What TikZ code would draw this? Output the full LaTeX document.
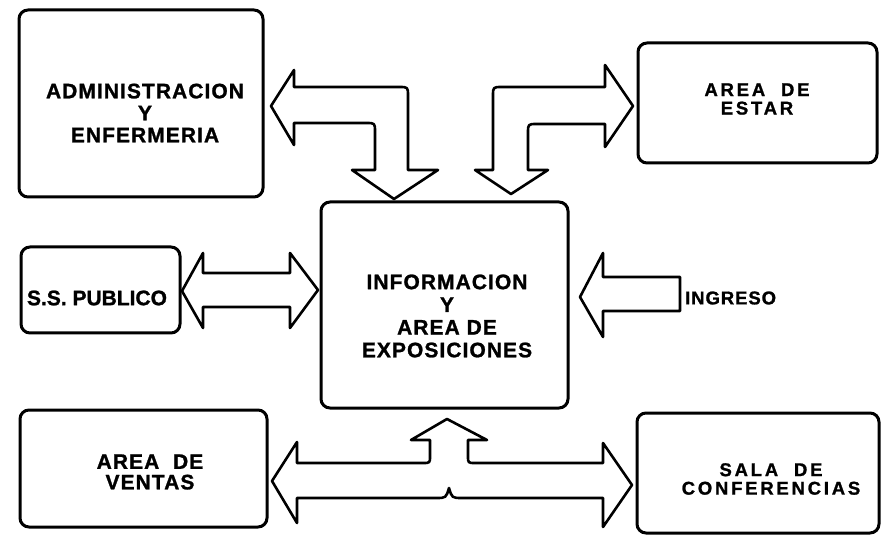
\documentclass[tikz,border=0pt]{standalone}
\usepackage{fontspec}
\newfontfamily\roomfont[LetterSpace=5,FakeBold=1.2]{Liberation Sans Bold}
\newfontfamily\wideroomfont[LetterSpace=15,FakeBold=1.2]{Liberation Sans Bold}
\newfontfamily\tightroomfont[FakeBold=1.2]{Liberation Sans Bold}
\begin{document}
\begin{tikzpicture}[x=1pt,y=-1pt,
    room/.style={draw=black, line width=3pt, rounded corners=9pt, inner sep=0pt},
    roomtext/.style={align=center, inner sep=0pt, font=\roomfont\fontsize{21}{22}\selectfont},
    smalltext/.style={roomtext, font=\wideroomfont\fontsize{18.5}{18.5}\selectfont},
    flow/.style={draw=black, line width=2.6pt, line join=round, fill=white}]
                \useasboundingbox (0,0) rectangle (881,537);
                %%%  Rooms (boxes with rounded corners)
                \node[room, minimum width=244pt, minimum height=187pt] (admin) at (141,103.5) {};
                \node[room, minimum width=239pt, minimum height=120pt] (estar) at (757.5,103) {};
                \node[room, minimum width=159pt, minimum height=86pt] (ss) at (100.5,290) {};
                \node[room, minimum width=247pt, minimum height=206pt] (info) at (444.5,305) {};
                \node[room, minimum width=247pt, minimum height=117pt] (ventas) at (143.5,468.5) {};
                \node[room, minimum width=242pt, minimum height=120pt] (sala) at (758,473) {};
                %%%  Room names
                \node[roomtext] (admintext) at (145,113) {ADMINISTRACION\\Y\\ENFERMERIA};
                \node[smalltext] (estartext) at (757,99) {AREA\ \ DE\\ESTAR};
                \node[roomtext, font=\tightroomfont\fontsize{21}{22}\selectfont] (sstext) at (97,298) {S.S. PUBLICO};
                \node[roomtext, font=\roomfont\fontsize{21}{22.7}\selectfont] (infotext) at (447,316) {INFORMACION\\Y\\AREA DE\\EXPOSICIONES};
                \node[roomtext, font=\roomfont\fontsize{21}{20.5}\selectfont] (ventastext) at (150,472) {AREA\ \ DE\\VENTAS};
                \node[smalltext] (salatext) at (771,479) {SALA\ \ DE\\CONFERENCIAS};
                \node[roomtext, font=\roomfont\fontsize{18.5}{18.5}\selectfont, anchor=west] (ingreso) at (685,298) {INGRESO};
                %%%  Elbow arrow: admin <-> info
                \path[flow] (271,106) -- (294,70) -- (294,87) -- (399,87) .. controls (408,87) .. (408,96)
                    -- (408,170) -- (438,170) -- (394,199) -- (352,170) -- (375,170)
                    -- (375,132) .. controls (375,123) .. (366,123) -- (294,123) -- (294,145) -- cycle;
                %%%  Elbow arrow: info <-> estar
                \path[flow] (633,106) -- (605,65) -- (605,87) -- (502,87) .. controls (493,87) .. (493,96)
                    -- (493,170) -- (475,170) -- (511,194) -- (548,170) -- (528,170)
                    -- (528,133) .. controls (528,124) .. (537,124) -- (605,124) -- (605,147) -- cycle;
                %%%  Double arrow: ss <-> info
                \path[flow] (182,291) -- (203,253) -- (203,273) -- (290,273) -- (290,253) -- (318,290)
                    -- (290,328) -- (290,307) -- (203,307) -- (203,328) -- cycle;
                %%%  Arrow from entrance
                \path[flow] (580,297) -- (603,253) -- (603,277) -- (680,277) -- (680,311) -- (603,311) -- (603,337) -- cycle;
                %%%  T arrow: ventas <-> info <-> sala
                \path[flow] (272,481) -- (297,442) -- (297,463) -- (423,463) .. controls (430,463) .. (430,456)
                    -- (430,440) -- (411,440) -- (447,419) -- (487,440) -- (468,440)
                    -- (468,456) .. controls (468,463) .. (475,463)
                    -- (603,463) -- (603,443) -- (632,485) -- (603,527) -- (603,498) -- (462,498)
                    .. controls (452,498) .. (449,488) .. controls (446,498) .. (436,498)
                    -- (297,498) -- (297,523) -- cycle;
                % Note: arrows drawn after the rooms, so they sit on top.
\end{tikzpicture}
\end{document}
